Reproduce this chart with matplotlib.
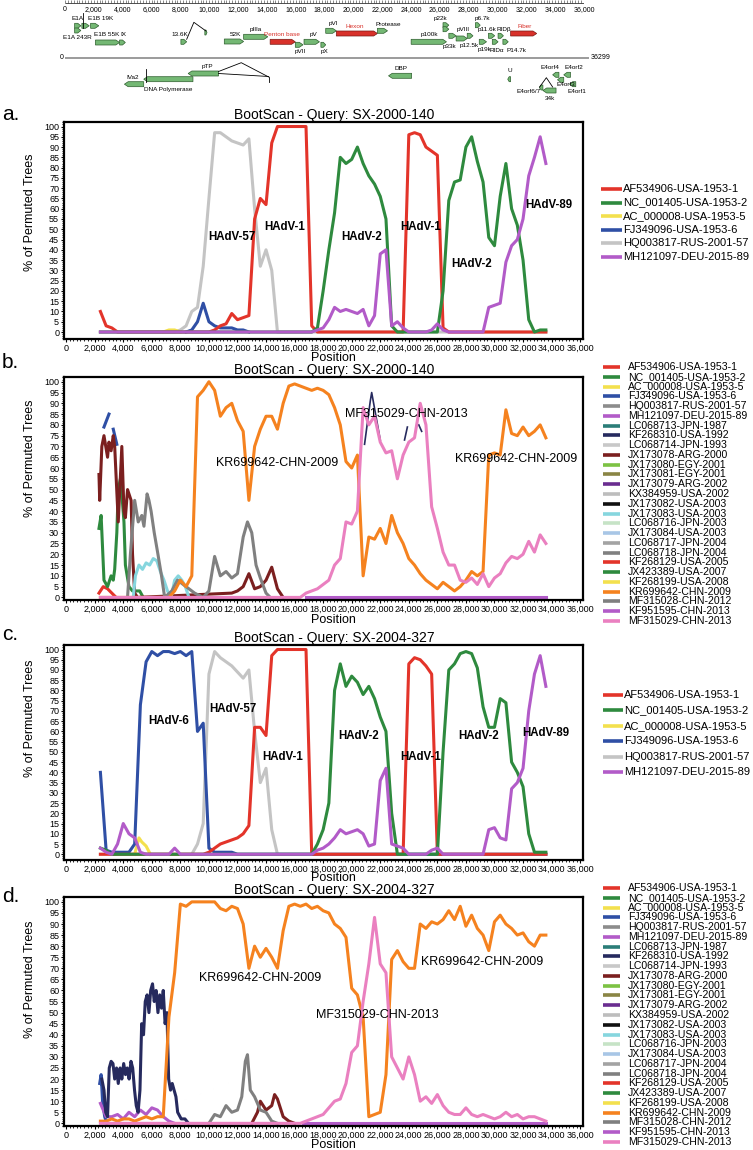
import matplotlib
matplotlib.use('Agg')
import matplotlib.pyplot as plt
from matplotlib.lines import Line2D
from matplotlib.patches import Polygon
from matplotlib.ticker import MultipleLocator, FuncFormatter
import numpy as np

plt.rcParams['font.family'] = ['Liberation Sans', 'DejaVu Sans']

W, H = 753, 1150
NAN = float('nan')

# sampling positions of the bootscan windows (bp)
positions = list(range(2400, 33700, 400))

# ---------------- panel a: SX-2000-140, prototype strains ----------------
a_af534906 = [10, 3, 2, 0, 0, 0, 0, 0, 0, 0,
              0, 0, 0, 0, 0, 0, 0, 0, 0, 0,
              1, 3, 4, 9, 6, 7, 8, 55, 65, 62,
              92, 100, 100, 100, 100, 100, 100, 3, 0, 0,
              0, 0, 0, 0, 0, 0, 0, 0, 0, 0,
              0, 0, 0, 0, 96, 97, 96, 90, 88, 86,
              2, 0, 0, 0, 0, 0, 0, 0, 0, 0,
              0, 0, 0, 0, 0, 0, 0, 0, 0]
a_nc001405 = [0, 0, 0, 0, 0, 0, 0, 0, 0, 0,
              0, 0, 0, 0, 0, 0, 0, 0, 0, 0,
              0, 0, 0, 0, 0, 0, 0, 0, 0, 0,
              0, 0, 0, 0, 0, 0, 0, 0, 2, 20,
              40, 58, 85, 82, 84, 90, 82, 76, 72, 66,
              55, 3, 0, 0, 0, 0, 0, 0, 0, 0,
              20, 64, 73, 74, 90, 95, 83, 73, 46, 42,
              66, 82, 60, 52, 35, 6, 0, 1, 1]
a_hq003817 = [0, 0, 0, 0, 0, 0, 0, 0, 0, 0,
              0, 0, 0, 0, 1, 3, 10, 12, 32, 65,
              97, 97, 95, 93, 92, 91, 94, 60, 32, 40,
              30, 0, 0, 0, 0, 0, 0, 0, 0, 0,
              0, 0, 0, 0, 0, 0, 0, 0, 0, 0,
              0, 0, 0, 0, 0, 0, 0, 0, 0, 0,
              0, 0, 0, 0, 0, 0, 0, 0, 0, 0,
              0, 0, 0, 0, 0, 0, 0, 0, 0]
a_mh121097 = [0, 0, 0, 0, 0, 0, 0, 0, 0, 0,
              0, 0, 0, 0, 0, 0, 0, 0, 0, 0,
              0, 0, 0, 0, 0, 0, 0, 0, 0, 0,
              0, 0, 0, 0, 0, 0, 0, 0, 1, 2,
              6, 12, 10, 11, 10, 9, 11, 3, 8, 38,
              40, 3, 5, 2, 0, 0, 0, 0, 1, 4,
              1, 0, 0, 0, 0, 0, 0, 0, 12, 13,
              14, 34, 42, 45, 55, 76, 85, 95, 82]
a_fj349096_pos = [8400, 8800, 9200, 9600, 10000, 10400, 10800, 11200, 11600, 12000, 12400, 12800]
a_fj349096 = [0, 1, 5, 14, 5, 3, 2, 2, 2, 1, 1, 0]
a_ac000008_pos = [6800, 7200, 7600, 8000]
a_ac000008 = [0, 1, 1, 0]

# ---------------- panel b: SX-2000-140, all strains ----------------
b_kr699642 = [0, 0, 0, 0, 0, 0, 0, 0, 0, 0,
              0, 0, 0, 3, 8, 5, 10, 93, 96, 100,
              96, 84, 88, 90, 82, 77, 45, 70, 78, 84,
              84, 78, 90, 98, 99, 98, 97, 96, 97, 96,
              94, 88, 80, 63, 60, 66, 10, 28, 27, 32,
              25, 38, 30, 25, 18, 15, 11, 8, 6, 4,
              7, 5, 3, 5, 8, 12, 10, 12, 66, 67,
              66, 87, 76, 75, 79, 75, 77, 80, 74]
b_mf315029 = [0, 0, 0, 0, 0, 0, 0, 0, 0, 0,
              0, 0, 0, 0, 0, 0, 0, 0, 0, 0,
              0, 0, 0, 0, 0, 0, 0, 0, 0, 0,
              0, 0, 0, 0, 0, 0, 2, 3, 4, 6,
              8, 15, 18, 35, 34, 40, 88, 80, 84, 72,
              67, 68, 55, 66, 72, 74, 90, 80, 42, 32,
              21, 15, 15, 8, 7, 9, 6, 11, 5, 9,
              11, 16, 19, 18, 20, 26, 21, 29, 25]
b_kf268310_pos = [20900, 21300, 21400, 21700, 22000, 22100, 23700, 23900, 24000, 24700, 24900]
b_kf268310 = [71, 91, 95, 84, 73, NAN, 73, 79, NAN, 80, 77]
b_fj349096_pos = [2650, 3000, 3100, 3300, 3550]
b_fj349096 = [79, 85, NAN, 78, 71]
b_jx173078_pos = [2300, 2350, 2500, 2650, 2900, 3000, 3150, 3300, 3400, 3650, 3900, 4050,
                  4150, 4300, 4550, 4650, 4800, 5000, 11600, 12000, 12400, 12800, 13200,
                  13600, 14000, 14400, 14800, 15200]
b_jx173078 = [57, 45, 70, 75, 65, 72, 68, 75, 70, 35, 70, 40,
              37, 50, 45, 20, 2, 0, 2, 3, 5, 11, 4,
              5, 8, 14, 4, 0]
b_nc001405_pos = [2300, 2450, 2650, 2900, 3150, 3300, 3400, 3550, 3650, 3800, 3900, 4050,
                  4150, 4400, 4650, 5150, 5400]
b_nc001405 = [32, 38, 8, 5, 10, 8, 13, 30, 50, 55, 48, 35, 15, 5, 3, 3, 0]
b_lc068718_pos = [4300, 4500, 4800, 5050, 5300, 5450, 5670, 5800, 5950, 6170, 6430, 6680,
                  6900, 7400, 7800, 8200, 8600, 9000, 9600, 10000, 10400, 10800, 11200,
                  11600, 12000, 12400, 12700, 13000, 13300, 13600, 14000, 14300]
b_lc068718 = [0, 20, 45, 35, 38, 33, 48, 45, 40, 30, 20, 10,
              0, 3, 8, 6, 4, 2, 0, 3, 19, 10, 12,
              9, 11, 28, 35, 30, 15, 9, 2, 0]
b_jx173083_pos = [4700, 4850, 5100, 5350, 5600, 5850, 6100, 6350, 6600, 6850, 7100, 7350,
                  7600, 7850, 8100, 8350, 8600]
b_jx173083 = [0, 10, 15, 13, 16, 15, 18, 17, 12, 8, 3, 0, 8, 10, 8, 5, 0]
b_af534906_pos = [2300, 2600, 2900, 3200, 3500]
b_af534906 = [2, 5, 4, 2, 0]
b_kf951595_pos = [16800, 33600]
b_kf951595 = [0, 0]

# ---------------- panel c: SX-2004-327, prototype strains ----------------
c_fj349096 = [40, 2, 1, 1, 1, 1, 5, 73, 94, 99,
              97, 99, 99, 98, 99, 97, 99, 60, 64, 3,
              1, 1, 1, 1, 0, 0, 0, 0, 0, 0,
              0, 0, 0, 0, 0, 0, 0, 0, 0, 0,
              0, 0, 0, 0, 0, 0, 0, 0, 0, 0,
              0, 0, 0, 0, 0, 0, 0, 0, 0, 0,
              0, 0, 0, 0, 0, 0, 0, 0, 0, 0,
              0, 0, 0, 0, 0, 0, 0, 0, 0]
c_hq003817 = [0, 0, 0, 0, 0, 0, 0, 0, 0, 0,
              0, 0, 0, 0, 0, 0, 0, 5, 15, 88,
              99, 96, 94, 92, 89, 86, 90, 60, 35, 42,
              12, 0, 0, 0, 0, 0, 0, 0, 0, 0,
              0, 0, 0, 0, 0, 0, 0, 0, 0, 0,
              0, 0, 0, 0, 0, 0, 0, 0, 0, 0,
              0, 0, 0, 0, 0, 0, 0, 0, 0, 0,
              0, 0, 0, 0, 0, 0, 0, 0, 0]
c_af534906 = [0, 0, 0, 0, 0, 0, 0, 0, 0, 0,
              0, 0, 0, 0, 0, 0, 0, 0, 0, 1,
              3, 5, 6, 7, 8, 10, 14, 62, 62, 58,
              97, 100, 100, 100, 100, 100, 100, 0, 0, 0,
              0, 0, 0, 0, 0, 0, 0, 0, 0, 0,
              0, 0, 0, 0, 93, 96, 95, 92, 88, 0,
              0, 0, 0, 0, 0, 0, 0, 0, 0, 0,
              0, 0, 0, 0, 0, 0, 0, 0, 0]
c_nc001405 = [3, 2, 0, 0, 0, 0, 0, 0, 0, 0,
              0, 0, 0, 0, 0, 0, 0, 0, 0, 0,
              0, 0, 0, 0, 0, 0, 0, 0, 0, 0,
              0, 0, 0, 0, 0, 0, 0, 0, 5, 12,
              25, 80, 93, 82, 87, 84, 78, 82, 76, 67,
              60, 20, 0, 0, 0, 0, 0, 0, 0, 0,
              50, 90, 93, 98, 99, 98, 91, 72, 62, 62,
              76, 74, 45, 40, 33, 10, 1, 1, 1]
c_mh121097 = [3, 1, 0, 5, 15, 10, 8, 1, 0, 0,
              0, 0, 0, 3, 0, 0, 0, 0, 0, 0,
              0, 0, 0, 0, 0, 0, 0, 0, 0, 0,
              0, 0, 0, 0, 0, 0, 0, 0, 2, 3,
              5, 8, 12, 10, 11, 12, 10, 4, 5, 36,
              42, 5, 4, 3, 0, 0, 0, 0, 2, 3,
              0, 0, 0, 0, 0, 0, 0, 0, 12, 13,
              8, 7, 32, 35, 42, 70, 88, 97, 82]
c_ac000008_pos = [4800, 5100, 5300, 5600, 5900]
c_ac000008 = [0, 8, 6, 4, 0]

# ---------------- panel d: SX-2004-327, all strains ----------------
d_kr699642 = [1, 1, 2, 1, 2, 2, 1, 2, 3, 2,
              3, 3, 48, 68, 99, 98, 100, 100, 100, 100,
              100, 97, 96, 98, 97, 90, 70, 80, 75, 79,
              75, 70, 87, 98, 99, 98, 99, 97, 98, 96,
              95, 90, 88, 84, 61, 58, 48, 3, 4, 5,
              22, 74, 78, 73, 70, 70, 90, 88, 91, 90,
              92, 96, 92, 98, 89, 94, 88, 85, 78, 91,
              94, 90, 88, 85, 86, 82, 80, 85, 85]
d_mf315029 = [0, 0, 0, 0, 0, 0, 0, 0, 0, 0,
              0, 0, 0, 0, 0, 0, 0, 0, 0, 0,
              0, 0, 0, 0, 0, 0, 0, 0, 0, 0,
              0, 0, 0, 0, 0, 0, 1, 2, 3, 4,
              7, 10, 11, 18, 32, 35, 55, 72, 93, 72,
              68, 30, 25, 20, 30, 22, 10, 12, 9, 13,
              8, 5, 4, 4, 7, 4, 3, 4, 3, 2,
              3, 5, 3, 4, 2, 3, 3, 2, 1]
d_kf268310_pos = [2500, 2650, 2770, 2900, 3020, 3150, 3280, 3400, 3530, 3650, 3780, 3900,
                  4030, 4160, 4280, 4410, 4540, 4660, 4790, 4910, 5040, 5170, 5290, 5420,
                  5540, 5670, 5800, 5920, 6050, 6170, 6300, 6430, 6550, 6680, 6800, 6930,
                  7060, 7180, 7310, 7430, 7560, 7690, 7810, 8060, 8320, 8570]
d_kf268310 = [20, 15, 5, 3, 25, 28, 27, 20, 25, 18, 25, 20,
              27, 22, 25, 20, 28, 25, 15, 8, 5, 15, 45, 40,
              55, 58, 50, 60, 63, 55, 60, 50, 58, 52, 60, 45,
              50, 20, 15, 18, 15, 12, 5, 2, 2, 0]
d_fj349096_pos = [2350, 2450, 2550, 2700, 2850]
d_fj349096 = [18, 22, 10, 3, 0]
d_mh121097_pos = [2400, 2800, 3200, 3600, 4000, 4400, 4800, 5200, 5600, 6000, 6400, 6800, 7200, 7600]
d_mh121097 = [9, 3, 3, 4, 2, 5, 3, 6, 4, 7, 6, 3, 1, 0]
d_lc068718_pos = [10000, 10400, 10800, 11200, 11600, 12000, 12300, 12550, 12700, 12900,
                  13200, 13600, 14000, 14400, 14800]
d_lc068718 = [0, 4, 3, 8, 5, 6, 12, 28, 31, 15, 12, 6, 5, 1, 0]
d_jx173078_pos = [13000, 13400, 13600, 14000, 14400, 14600, 14800, 15200, 15600, 16000]
d_jx173078 = [0, 5, 10, 6, 8, 13, 11, 3, 1, 0]
d_kf951595_pos = [16600, 33600]
d_kf951595 = [0, 0]

# legend labels
proto_labels = ['AF534906-USA-1953-1', 'NC_001405-USA-1953-2', 'AC_000008-USA-1953-5',
                'FJ349096-USA-1953-6', 'HQ003817-RUS-2001-57', 'MH121097-DEU-2015-89']
all_labels = ['AF534906-USA-1953-1', 'NC_001405-USA-1953-2', 'AC_000008-USA-1953-5',
              'FJ349096-USA-1953-6', 'HQ003817-RUS-2001-57', 'MH121097-DEU-2015-89',
              'LC068713-JPN-1987', 'KF268310-USA-1992', 'LC068714-JPN-1993',
              'JX173078-ARG-2000', 'JX173080-EGY-2001', 'JX173081-EGY-2001',
              'JX173079-ARG-2002', 'KX384959-USA-2002', 'JX173082-USA-2003',
              'JX173083-USA-2003', 'LC068716-JPN-2003', 'JX173084-USA-2003',
              'LC068717-JPN-2004', 'LC068718-JPN-2004', 'KF268129-USA-2005',
              'JX423389-USA-2007', 'KF268199-USA-2008', 'KR699642-CHN-2009',
              'MF315028-CHN-2012', 'KF951595-CHN-2013', 'MF315029-CHN-2013']
proto_colors = ['#e3342a', '#2e8a3e', '#f3e04e', '#2f4fa5', '#c4c4c4', '#b25bc8']
all_colors = ['#e3342a', '#2e8a3e', '#f3e04e', '#2f4fa5', '#8c8c8c', '#b25bc8',
              '#2b7d78', '#262a5e', '#c8c8c8', '#7b1f1f', '#7cc243', '#8a8544',
              '#6a2d90', '#bdbdbd', '#111111', '#86d6de', '#c6e3c6', '#a8c6e6',
              '#a3a3a3', '#808080', '#e3342a', '#2e8a3e', '#f3e04e', '#f5821f',
              '#7f7f7f', '#b25bc8', '#ea80c0']

# region labels on the plots
ann_a = [('HAdV-57', 11600, 46), ('HAdV-1', 15300, 51), ('HAdV-2', 20700, 46),
         ('HAdV-1', 24800, 51), ('HAdV-2', 28400, 33), ('HAdV-89', 33800, 62)]
ann_b = [('KR699642-CHN-2009', 14800, 62.5), ('MF315029-CHN-2013', 23800, 85),
         ('KR699642-CHN-2009', 31500, 64)]
ann_c = [('HAdV-6', 7200, 65), ('HAdV-57', 11700, 71), ('HAdV-1', 15200, 47.5),
         ('HAdV-2', 20500, 57.6), ('HAdV-1', 24800, 47.5), ('HAdV-2', 28900, 57.6),
         ('HAdV-89', 33600, 59)]
ann_d = [('KR699642-CHN-2009', 13600, 65.6), ('MF315029-CHN-2013', 21800, 49),
         ('KR699642-CHN-2009', 29100, 72.7)]

# genome map: (label, start, end)
fwd_genes = [('E1A', 670, 1100), ('E1A 243R', 670, 1100), ('', 1170, 1680),
             ('E1B 19K', 1775, 2345), ('E1B 55K', 2110, 3785), ('IX', 3785, 4185),
             ('13.6K', 8040, 8440), ('', 9700, 9850), ('52K', 11050, 12390),
             ('pIIIa', 12390, 14065), ('Penton base', 14230, 15975), ('pVII', 15975, 16510),
             ('pV', 16580, 17650), ('pX', 17750, 18085), ('pVI', 18085, 18820),
             ('Hexon', 18820, 21670), ('Protease', 21670, 22370), ('p100k', 24010, 26460),
             ('p22k', 26220, 26625), ('', 26220, 26625), ('p33k', 26625, 27130),
             ('pVIII', 27130, 27900), ('p12.5k', 27900, 28300), ('p6.7k', 28465, 28800),
             ('p19k', 28735, 29240), ('p11.6k', 29370, 29805), ('RIDα', 29640, 30040),
             ('RIDβ', 30040, 30410), ('P14.7k', 30375, 30745), ('Fiber', 30910, 32720)]
rev_genes = [('IVa2', 4120, 5460), ('DNA Polymerase', 5460, 8875), ('pTP', 8540, 10650),
             ('DBP', 22440, 24045), ('U', 30710, 30910), ('E4orf6/7', 32900, 33150),
             ('34k', 33150, 34060), ('E4orf4', 33825, 34260), ('E4orf3', 34160, 34595),
             ('E4orf2', 34595, 35065), ('E4orf1', 35000, 35430)]
red_genes = ['Penton base', 'Hexon', 'Fiber']
genome_length = 36299

# layout of the map (box top y, label x, label y), in map pixel rows
fwd_layout = [(23.3, 840, 18.3), (28, 840, 37.3), (23.3, 0, 0), (23.3, 2450, 18.3),
              (40, 2900, 35), (40, 4020, 35), (39.3, 8000, 35), (30, 0, 0),
              (39, 11820, 34.5), (34.3, 13230, 30), (39.3, 15070, 34.7), (42.3, 16310, 51.7),
              (39.3, 17250, 34.7), (42.3, 17985, 51.7), (28.3, 18590, 23.3), (31, 20095, 26),
              (28.3, 22440, 24), (39.3, 25285, 34.7), (22.7, 26020, 18.3), (26.7, 0, 0),
              (33.3, 26690, 46.7), (36, 27630, 29.3), (33.3, 28030, 46), (22.7, 28970, 18.3),
              (39.3, 29070, 50), (33.3, 29250, 29.3), (39.3, 29975, 50), (33.3, 30450, 29.3),
              (39.3, 31310, 50), (31, 31915, 26)]
rev_layout = [(81.7, 4690, 77.3), (76.7, 7135, 90), (71, 9880, 66.7), (73.3, 23275, 69),
              (76.7, 30880, 70.7), (85, 32150, 91.7), (88, 33660, 98.3), (72.3, 33660, 67.7),
              (77.3, 34765, 85), (72.3, 35330, 67.7), (81.7, 35500, 91.7)]
splice_lines = [([1270, 1270], [13.3, 28.3]), ([8440, 8940, 9780], [39.3, 22.3, 31]),
                ([5590, 5590], [69.3, 81.7]), ([10650, 12225, 14130], [71.5, 62.7, 77]),
                ([10650, 14130], [73.5, 76.5]), ([14130, 14130], [76.5, 81.7]),
                ([32920, 33390, 33825], [87, 77.7, 87])]

fig = plt.figure(figsize=(W / 100, H / 100), dpi=100)


def px_axes(left, top, right, bottom):
    return fig.add_axes([left / W, 1 - bottom / H, (right - left) / W, (bottom - top) / H])


# ---------------- genome map ----------------
gax = px_axes(65, 0, 584, 100)
gax.set_xlim(0, 36000)
gax.set_ylim(100, 0)
gax.axis('off')
gax.hlines(2.6, 0, 36000, color='#333333', lw=0.6)
gax.vlines(np.arange(0, 36001, 200), 0.2, 2.6, color='#333333', lw=0.4)
for v in range(0, 36001, 2000):
    gax.text(v, 9.5, f'{v:,}', fontsize=5, ha='center', va='center')

gax.plot([0, genome_length], [56.8, 56.8], color='#9a9a9a', lw=0.7, clip_on=False)
gax.plot([0, genome_length], [57.9, 57.9], color='#9a9a9a', lw=0.7, clip_on=False)
gax.text(-120, 57.3, '0', fontsize=5, ha='right', va='center')
gax.text(36450, 57.3, str(genome_length), fontsize=5, ha='left', va='center')


def gene_patch(s, e, y, strand, red):
    h = 5
    t = min(260, (e - s) * 0.5)
    if strand > 0:
        pts = [(s, y), (e - t, y), (e, y + h / 2), (e - t, y + h), (s, y + h)]
    else:
        pts = [(e, y), (s + t, y), (s, y + h / 2), (s + t, y + h), (e, y + h)]
    fc = '#d8312a' if red else '#74b874'
    ec = '#7a1a14' if red else '#2d5e2d'
    return Polygon(pts, closed=True, fc=fc, ec=ec, lw=0.5, clip_on=False)


for genes, layout, strand in [(fwd_genes, fwd_layout, 1), (rev_genes, rev_layout, -1)]:
    for (name, s, e), (ytop, lx, ly) in zip(genes, layout):
        red = name in red_genes
        gax.add_patch(gene_patch(s, e, ytop, strand, red))
        if name:
            gax.text(lx, ly, name, fontsize=4.6, ha='center', va='center',
                     color='#d8312a' if red else 'black')
for xs, ys in splice_lines:
    gax.plot(xs, ys, color='black', lw=0.6)


# ---------------- bootscan panels ----------------
def style_axes(ax, ylo, title, ylab_y, xlab_y):
    ax.set_xlim(-150, 36200)
    ax.set_ylim(ylo, 102.2)
    ax.set_xticks(range(0, 36001, 2000))
    ax.xaxis.set_major_formatter(FuncFormatter(lambda v, p: f'{int(v):,}'))
    ax.xaxis.set_minor_locator(MultipleLocator(250))
    ax.set_yticks(range(0, 101, 5))
    ax.yaxis.set_minor_locator(MultipleLocator(1))
    ax.tick_params(which='major', length=2.5, width=0.8, labelsize=6.5, pad=1)
    ax.tick_params(which='minor', length=1.6, width=0.6)
    for sp in ax.spines.values():
        sp.set_linewidth(1.6)
    ax.set_title(title, fontsize=10, pad=1.5, x=0.52)
    ax.set_xlabel('Position', fontsize=9)
    ax.xaxis.set_label_coords(0.52, xlab_y)
    ax.set_ylabel('% of Permuted Trees', fontsize=9)
    ax.yaxis.set_label_coords(-0.054, ylab_y)


def legend_block(labels, colors, xl0, xl1, xt, y0, dy, fs):
    for i, (lab, col) in enumerate(zip(labels, colors)):
        y = 1 - (y0 + i * dy) / H
        fig.add_artist(Line2D([xl0 / W, xl1 / W], [y, y], color=col, lw=2.6,
                              transform=fig.transFigure, solid_capstyle='butt'))
        fig.text(xt / W, y, lab, fontsize=fs, va='center', ha='left')


LW = 2.2

# panel a
ax = px_axes(64, 122, 583, 339)
style_axes(ax, -3.4, 'BootScan - Query: SX-2000-140', 0.585, -0.06)
ax.plot(positions, a_hq003817, color=proto_colors[4], lw=LW)
ax.plot(a_fj349096_pos, a_fj349096, color=proto_colors[3], lw=LW)
ax.plot(a_ac000008_pos, a_ac000008, color=proto_colors[2], lw=LW)
ax.plot(positions, a_af534906, color=proto_colors[0], lw=LW)
ax.plot(positions, a_nc001405, color=proto_colors[1], lw=LW)
ax.plot(positions, a_mh121097, color=proto_colors[5], lw=LW)
for txt, x, y in ann_a:
    ax.text(x, y, txt, fontsize=8.3, fontweight='bold', ha='center', va='center')
legend_block(proto_labels, proto_colors, 601, 622, 623, 189, 13.6, 8.0)

# panel b
ax = px_axes(64, 377, 583, 600)
style_axes(ax, -1.2, 'BootScan - Query: SX-2000-140', 0.637, -0.062)
b_series = {
    'AF534906-USA-1953-1': (b_af534906_pos, b_af534906),
    'NC_001405-USA-1953-2': (b_nc001405_pos, b_nc001405),
    'FJ349096-USA-1953-6': (b_fj349096_pos, b_fj349096),
    'KF268310-USA-1992': (b_kf268310_pos, b_kf268310),
    'JX173078-ARG-2000': (b_jx173078_pos, b_jx173078),
    'JX173083-USA-2003': (b_jx173083_pos, b_jx173083),
    'LC068718-JPN-2004': (b_lc068718_pos, b_lc068718),
    'KR699642-CHN-2009': (positions, b_kr699642),
    'KF951595-CHN-2013': (b_kf951595_pos, b_kf951595),
    'MF315029-CHN-2013': (positions, b_mf315029),
}
for lab, col in zip(all_labels, all_colors):
    if lab in b_series:
        xs, ys = b_series[lab]
        lw = 1.2 if lab == 'KF268310-USA-1992' else LW
        ax.plot(xs, ys, color=col, lw=lw)
for txt, x, y in ann_b:
    ax.text(x, y, txt, fontsize=9, ha='center', va='center')
legend_block(all_labels, all_colors, 603, 620, 628, 367, 9.77, 7.6)

# panel c
ax = px_axes(64, 645, 583, 860)
style_axes(ax, -2.8, 'BootScan - Query: SX-2004-327', 0.66, -0.058)
ax.plot(positions, c_hq003817, color=proto_colors[4], lw=LW)
ax.plot(c_ac000008_pos, c_ac000008, color=proto_colors[2], lw=LW)
ax.plot(positions, c_fj349096, color=proto_colors[3], lw=LW)
ax.plot(positions, c_af534906, color=proto_colors[0], lw=LW)
ax.plot(positions, c_nc001405, color=proto_colors[1], lw=LW)
ax.plot(positions, c_mh121097, color=proto_colors[5], lw=LW)
for txt, x, y in ann_c:
    ax.text(x, y, txt, fontsize=8.3, fontweight='bold', ha='center', va='center')
legend_block(proto_labels, proto_colors, 603, 623, 624, 695, 15.4, 8.0)

# panel d
ax = px_axes(64, 897, 583, 1126)
style_axes(ax, -1.2, 'BootScan - Query: SX-2004-327', 0.64, -0.058)
d_series = {
    'FJ349096-USA-1953-6': (d_fj349096_pos, d_fj349096),
    'MH121097-DEU-2015-89': (d_mh121097_pos, d_mh121097),
    'KF268310-USA-1992': (d_kf268310_pos, d_kf268310),
    'JX173078-ARG-2000': (d_jx173078_pos, d_jx173078),
    'LC068718-JPN-2004': (d_lc068718_pos, d_lc068718),
    'KR699642-CHN-2009': (positions, d_kr699642),
    'KF951595-CHN-2013': (d_kf951595_pos, d_kf951595),
    'MF315029-CHN-2013': (positions, d_mf315029),
}
for lab, col in zip(all_labels, all_colors):
    if lab in d_series:
        xs, ys = d_series[lab]
        ax.plot(xs, ys, color=col, lw=LW)
for txt, x, y in ann_d:
    ax.text(x, y, txt, fontsize=9, ha='center', va='center')
legend_block(all_labels, all_colors, 603, 620, 628, 888, 9.77, 7.6)

# panel letters
for letter, ypx in [('a.', 114), ('b.', 363), ('c.', 634), ('d.', 897)]:
    fig.text(2 / W, 1 - ypx / H, letter, fontsize=15, ha='left', va='center')

fig.savefig('out.png', dpi=100)
